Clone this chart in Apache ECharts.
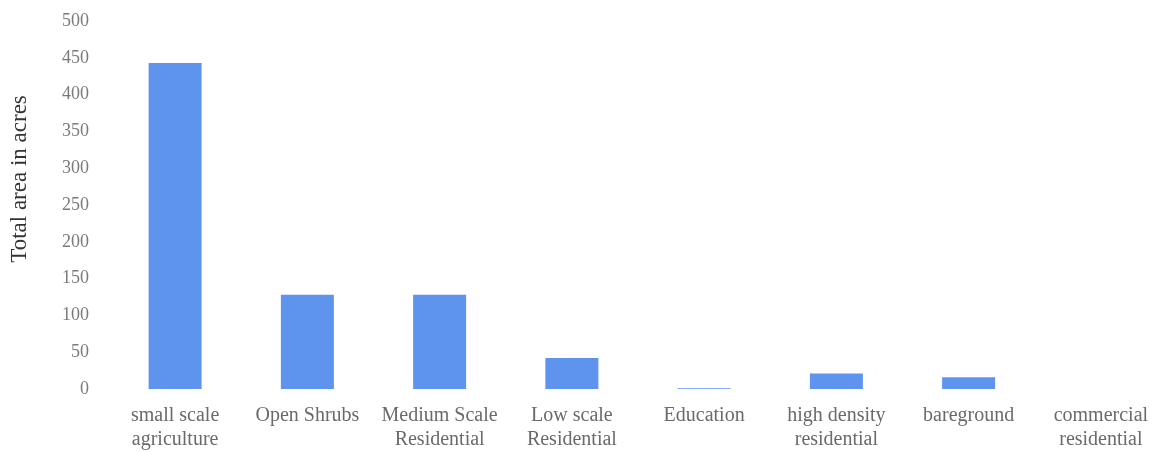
<!DOCTYPE html>
<html>
<head>
<meta charset="utf-8">
<script src="https://cdn.jsdelivr.net/npm/echarts@6/dist/echarts.min.js"></script>
<style>
  html, body { margin: 0; padding: 0; background: #fff; }
  #chart { width: 1164px; height: 452px; }
</style>
</head>
<body>
<div id="chart"></div>
<script>
// land use categories (x axis)
const categories = [
  'small scale\nagriculture',
  'Open Shrubs',
  'Medium Scale\nResidential',
  'Low scale\nResidential',
  'Education',
  'high density\nresidential',
  'bareground',
  'commercial\nresidential'
];
// total area in acres
const areaValues = [443, 128, 128, 42, 1, 21, 16, 0];
const yTicks = { min: 0, max: 500, interval: 50 };

const chart = echarts.init(document.getElementById('chart'));
chart.setOption({
  backgroundColor: '#fff',
  animation: false,
  grid: {
    left: 109,
    top: 21,
    width: 1058,
    bottom: 63,
    outerBoundsMode: 'none',
  },
  xAxis: {
    type: 'category',
    data: categories,
    axisLine: { show: false },
    axisTick: { show: false },
    axisLabel: {
      color: '#6a6a6a',
      fontFamily: 'Liberation Serif',
      fontSize: 20,
      lineHeight: 24,
      margin: 15,
      interval: 0,
    },
  },
  yAxis: {
    type: 'value',
    min: yTicks.min,
    max: yTicks.max,
    interval: yTicks.interval,
    name: 'Total area in acres',
    nameLocation: 'middle',
    nameGap: 78,
    nameTextStyle: {
      color: '#333',
      fontFamily: 'Liberation Serif',
      fontSize: 23,
      padding: [0, 0, 0, 52],
    },
    axisLine: { show: false },
    axisTick: { show: false },
    splitLine: { show: false },
    axisLabel: {
      color: '#7a7a7a',
      fontFamily: 'Liberation Serif',
      fontSize: 18,
      margin: 20,
    },
  },
  series: [{
    type: 'bar',
    data: areaValues,
    barWidth: 53,
    itemStyle: { color: '#5e93ee' },
  }],
});
</script>
</body>
</html>
